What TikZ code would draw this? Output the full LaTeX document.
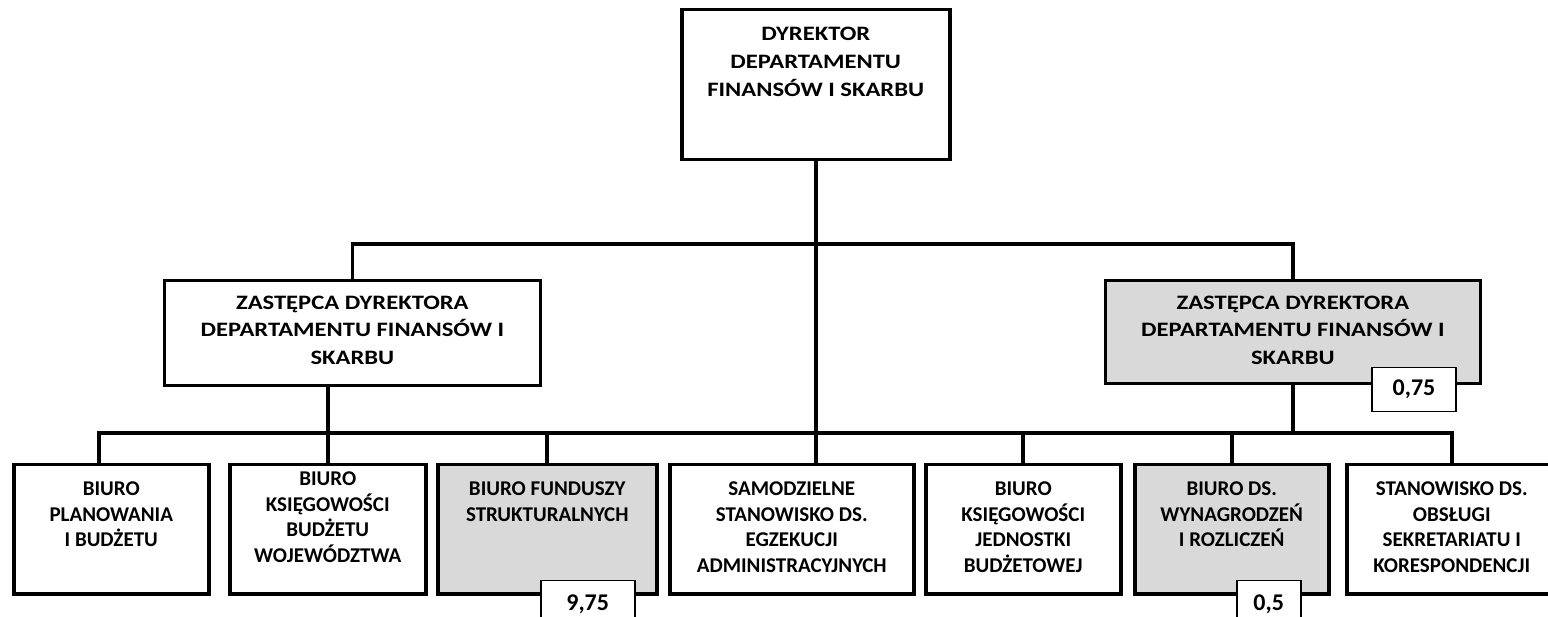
\documentclass[tikz,border=0pt]{standalone}
\usepackage{fontspec}
\setmainfont{Carlito}
\newfontfamily\widefont[FakeStretch=1.2]{Carlito}
\usetikzlibrary{positioning}
\tikzstyle{unit}=[draw,line width=3.5pt,inner sep=0pt,anchor=north west,font=\bfseries\fontsize{21}{25.5}\selectfont]
\tikzstyle{head}=[unit,font=\widefont\bfseries\fontsize{20.5}{28}\selectfont]
\tikzstyle{dep}=[unit,line width=2.8pt,font=\widefont\bfseries\fontsize{20.5}{27.5}\selectfont]
\tikzstyle{shaded}=[fill=black!15]
\tikzstyle{tag}=[draw,line width=1.6pt,fill=white,inner sep=0pt,anchor=north east,font=\bfseries\fontsize{24}{26}\selectfont]
\tikzstyle{wire}=[line width=3.8pt]
\newcommand{\unitcell}[4]{\parbox[c][#2pt][t]{#1pt}{\centering\rule{0pt}{#3pt}#4}}

\begin{document}
\begin{tikzpicture}[x=1pt,y=-1pt]
  \useasboundingbox (0,0) rectangle (1548,617);
  \coordinate (top bus) at (0,244);
  \coordinate (low bus) at (0,433);

  \node[head] (dir) at (680,8) {\unitcell{268}{150}{31}{DYREKTOR\\DEPARTAMENTU\\FINANSÓW I SKARBU}};
  \node[dep] (depL) at (163,279) {\unitcell{376}{105}{29}{ZASTĘPCA DYREKTORA\\DEPARTAMENTU FINANSÓW I\\SKARBU}};
  \node[dep,shaded] (depR) at (1104,279) {\unitcell{375}{103}{29}{ZASTĘPCA DYREKTORA\\DEPARTAMENTU FINANSÓW I\\SKARBU}};

  \node[unit] (b1) at (12,463) {\unitcell{195}{129}{31}{BIURO\\PLANOWANIA\\I BUDŻETU}};
  \node[unit] (b2) at (228,463) {\unitcell{196}{129}{21}{BIURO\\KSIĘGOWOŚCI\\BUDŻETU\\WOJEWÓDZTWA}};
  \node[unit,shaded] (b3) at (436,463) {\unitcell{219}{129}{31}{BIURO FUNDUSZY\\STRUKTURALNYCH}};
  \node[unit] (b4) at (668,463) {\unitcell{244}{129}{31}{SAMODZIELNE\\STANOWISKO DS.\\EGZEKUCJI\\ADMINISTRACYJNYCH}};
  \node[unit] (b5) at (924,463) {\unitcell{195}{129}{31}{BIURO\\KSIĘGOWOŚCI\\JEDNOSTKI\\BUDŻETOWEJ}};
  \node[unit,shaded] (b6) at (1133,463) {\unitcell{194}{129}{31}{BIURO DS.\\WYNAGRODZEŃ\\I ROZLICZEŃ}};
  \node[unit] (b7) at (1345,463) {\unitcell{210}{129}{31}{STANOWISKO DS.\\OBSŁUGI\\SEKRETARIATU I\\KORESPONDENCJI}};

  \node[tag,minimum width=84pt,minimum height=44pt] (tR) at ([xshift=-25pt,yshift=18pt]depR.south east) {0,75};
  \node[tag,minimum width=94pt,minimum height=48pt] (t3) at ([xshift=-23pt,yshift=16pt]b3.south east) {9,75};
  \node[tag,minimum width=64pt,minimum height=48pt] (t6) at ([xshift=-29pt,yshift=16pt]b6.south east) {0,5};

  \draw[wire] (depL.north) |- (depR.north |- top bus) -- (depR.north);
  \draw[wire] (dir.south) -- (dir.south |- b4.north);
  \draw[wire] (b2.north |- depL.south) -- (b2.north);
  \draw[wire] (depR.south) -- (depR.south |- low bus);
  \draw[wire] ([xshift=-12pt]b1.north) |- (b7.north |- low bus) -- (b7.north);
  \foreach \b in {b3,b5,b6} \draw[wire] (\b.north) -- (\b.north |- low bus);
\end{tikzpicture}
\end{document}
